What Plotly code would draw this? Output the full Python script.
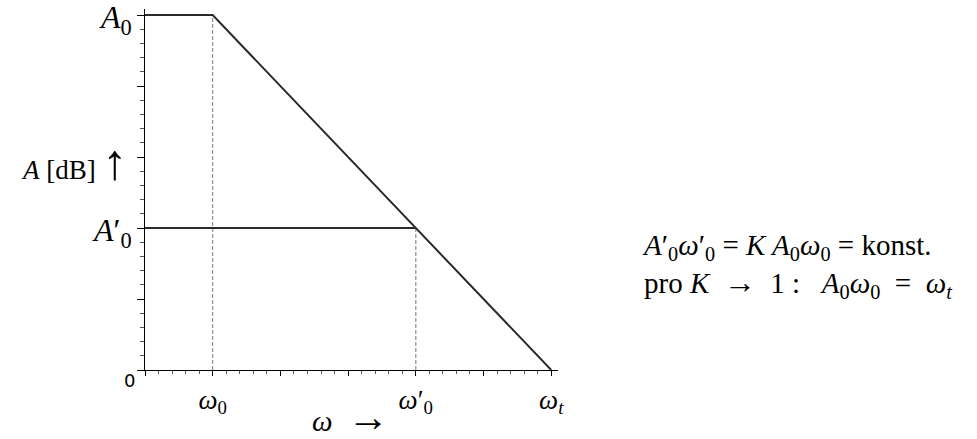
import plotly.graph_objects as go

# Asymptotic magnitude response (log-scaled axes, one unit = one decade step)
response_x = [0, 1, 6]
response_y = [5, 5, 0]

# Reduced-gain response with feedback
reduced_x = [0, 4]
reduced_y = [2, 2]

# Corner frequencies marked with dashed drop lines
corner_x = [1, 4]
corner_y = [5, 2]

# Tick positions and labels
x_tickvals = [0, 1, 2, 3, 4, 5, 6]
x_ticktext = ["", "<i>ω</i><sub>0</sub>", "", "", "<i>ω</i>′<sub>0</sub>", "", "<i>ω<sub>t</sub></i>"]
y_tickvals = [0, 1, 2, 3, 4, 5]
level_vals = [5, 2]
level_text = ["<i>A</i><sub>0</sub>", "<i>A</i>′<sub>0</sub>"]

ARROW = '<span style="font-size:{}px">{}</span>'

origin_label = "0"
y_title = "<i>A</i> [dB] " + ARROW.format(50, "↑")
x_title = "<i>ω</i>  " + ARROW.format(42, "→")
note_lines = [
    "<i>A</i>′<sub>0</sub><i>ω</i>′<sub>0</sub> = <i>K A</i><sub>0</sub><i>ω</i><sub>0</sub> = konst.",
    "pro <i>K</i>  " + ARROW.format(32, "→") + "  1 :   <i>A</i><sub>0</sub><i>ω</i><sub>0</sub>  =  <i>ω<sub>t</sub></i>",
]

SERIF = "Liberation Serif"
INK = "#2a2a2a"

# pixel geometry of the plotting area
L, T, W, H = 145, 9, 413, 361
Y_MAX = 5.085


def py(v):
    """data y -> paper y"""
    return v / Y_MAX


def px_to_paper_x(p):
    return (p - L) / W


def px_to_paper_y(p):
    return (T + H - p) / H


fig = go.Figure()

# dashed drop lines from the corners to the frequency axis
for cx, cy in zip(corner_x, corner_y):
    fig.add_trace(go.Scatter(
        x=[cx, cx], y=[0, cy], mode="lines",
        line=dict(color="#7a7a7a", width=1, dash="4px,2px"),
        hoverinfo="skip", showlegend=False,
    ))

fig.add_trace(go.Scatter(
    x=response_x, y=response_y, mode="lines",
    line=dict(color=INK, width=2), showlegend=False,
))
fig.add_trace(go.Scatter(
    x=reduced_x, y=reduced_y, mode="lines",
    line=dict(color=INK, width=2), showlegend=False,
))

fig.update_layout(
    width=977, height=439,
    margin=dict(l=L, r=977 - L - W, t=T, b=439 - T - H),
    paper_bgcolor="white", plot_bgcolor="white",
    showlegend=False,
    xaxis=dict(
        range=[0, 6.1], showgrid=False, zeroline=False,
        showline=True, linecolor="black", linewidth=1.3,
        tickmode="array", tickvals=x_tickvals, ticktext=x_ticktext,
        ticks="outside", ticklen=5, tickwidth=1.2, tickcolor="black",
        tickfont=dict(family=SERIF, size=27, color="black"),
        minor=dict(dtick=0.2, ticks="outside", ticklen=3, tickwidth=1, tickcolor="#555"),
        fixedrange=True,
    ),
    yaxis=dict(
        range=[0, Y_MAX], showgrid=False, zeroline=False,
        showline=True, linecolor="black", linewidth=1.3,
        tickmode="array", tickvals=y_tickvals, showticklabels=False,
        ticks="outside", ticklen=7, tickwidth=1.2, tickcolor="black",
        minor=dict(dtick=0.2, ticks="outside", ticklen=3.5, tickwidth=1, tickcolor="#555"),
        fixedrange=True,
    ),
)

annotations = [
    dict(text=origin_label, x=px_to_paper_x(129), y=px_to_paper_y(380),
         xref="paper", yref="paper", xanchor="center", yanchor="middle",
         showarrow=False, font=dict(family="DejaVu Sans", size=18, color="black")),
    dict(text=y_title, x=px_to_paper_x(130), y=px_to_paper_y(162),
         xref="paper", yref="paper", xanchor="right", yanchor="middle",
         showarrow=False, font=dict(family=SERIF, size=27, color="black")),
    dict(text=x_title, x=px_to_paper_x(350), y=px_to_paper_y(417),
         xref="paper", yref="paper", xanchor="center", yanchor="middle",
         showarrow=False, font=dict(family=SERIF, size=29, color="black")),
    # relation between gain and bandwidth, two left-aligned lines
    dict(text="<br>".join(note_lines), x=px_to_paper_x(640), y=px_to_paper_y(266),
         xref="paper", yref="paper", xanchor="left", yanchor="middle", align="left",
         showarrow=False, font=dict(family=SERIF, size=29, color="black")),
]
# level labels beside the amplitude axis
for v, t in zip(level_vals, level_text):
    annotations.append(dict(
        text=t, x=px_to_paper_x(134), y=py(v) - 4 / H,
        xref="paper", yref="paper", xanchor="right", yanchor="middle",
        showarrow=False, font=dict(family=SERIF, size=32, color="black"),
    ))
fig.update_layout(annotations=annotations)

fig.write_html("out.html")
